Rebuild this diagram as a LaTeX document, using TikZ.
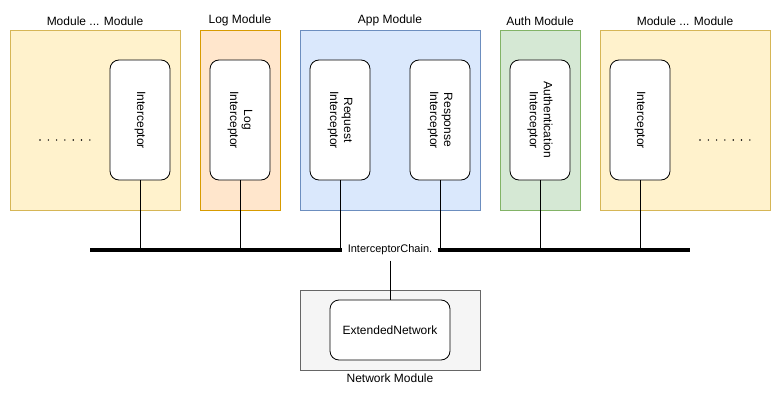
\documentclass[tikz,border=0pt]{standalone}
\usepackage{fontspec}
\setmainfont{Liberation Sans}
\usetikzlibrary{positioning}

\definecolor{yelfill}{HTML}{FFF2CC}
\definecolor{yeldraw}{HTML}{D6B656}
\definecolor{orafill}{HTML}{FFE6CC}
\definecolor{oradraw}{HTML}{D79B00}
\definecolor{blufill}{HTML}{DAE8FC}
\definecolor{bludraw}{HTML}{6C8EBF}
\definecolor{grnfill}{HTML}{D5E8D4}
\definecolor{grndraw}{HTML}{82B366}
\definecolor{gryfill}{HTML}{F5F5F5}
\definecolor{grydraw}{HTML}{666666}

\begin{document}
\begin{tikzpicture}[x=1pt,y=-1pt,font=\fontsize{12}{14}\selectfont,
                    line width=0.8pt,
                    module/.style={draw,minimum height=180pt,inner sep=0pt},
                    icpt/.style={draw,fill=white,rounded corners=9pt,rotate=-90,
                                 minimum width=120pt,minimum height=60pt,
                                 align=center,inner sep=0pt},
                    bus/.style={line width=4pt}]

  \useasboundingbox (0,0) rectangle (781,401);

  % modules
  \node[module,fill=yelfill,draw=yeldraw,minimum width=170pt] (M1) at (95,120)
       [label=above:{Module ... Module}] {};
  \node[module,fill=orafill,draw=oradraw,minimum width=80pt]  (M2) at (240,120)
       [label=above:{Log Module}] {};
  \node[module,fill=blufill,draw=bludraw,minimum width=180pt] (M3) at (390,120)
       [label=above:{App Module}] {};
  \node[module,fill=grnfill,draw=grndraw,minimum width=80pt]  (M4) at (540,120)
       [label=above:{Auth Module}] {};
  \node[module,fill=yelfill,draw=yeldraw,minimum width=170pt] (M5) at (685,120)
       [label=above:{Module ... Module}] {};

  % interceptors
  \node[icpt] (I1) at (140,120) {Interceptor};
  \node[icpt] (I2) at (240,120) {Log\\Interceptor};
  \node[icpt] (I3) at (340,120) {Request\\Interceptor};
  \node[icpt] (I4) at (440,120) {Response\\Interceptor};
  \node[icpt] (I5) at (540,120) {Authentication\\Interceptor};
  \node[icpt] (I6) at (640,120) {Interceptor};

  \foreach \i in {0,...,6} {
    \fill (40+\i*8.3,140) circle (0.8);
    \fill (700+\i*8.3,140) circle (0.8);
  }

  % chain
  \coordinate (busL) at (90,250);
  \coordinate (busR) at (690,250);
  \node[inner sep=5pt,font=\fontsize{11}{13}\selectfont] (chain) at (390,250)
       {InterceptorChain.};
  \draw[bus] (busL) -- (chain.west);
  \draw[bus] (chain.east) -- (busR);

  \foreach \n in {I1,I2,I3,I4,I5,I6}
    \draw (\n.east) -- (\n.east |- busL);

  % network
  \node[draw=grydraw,fill=gryfill,minimum width=180pt,minimum height=80pt,
        inner sep=0pt] (NM) at (390,330) [label=below:{Network Module}] {};
  \node[draw,fill=white,rounded corners=9pt,minimum width=120pt,
        minimum height=60pt,inner sep=0pt] (EN) at (390,330) {ExtendedNetwork};

  \draw (chain.south) -- (EN.north);
\end{tikzpicture}
\end{document}
